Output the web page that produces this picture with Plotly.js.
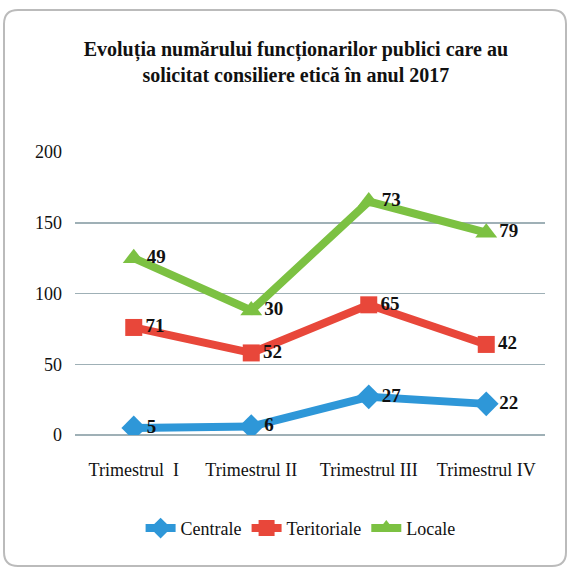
<!DOCTYPE html>
<html><head><meta charset="utf-8">
<script src="https://cdn.plot.ly/plotly-3.0.1.min.js"></script>
<style>html,body{margin:0;padding:0;background:#fff}#c{width:569px;height:569px}</style>
</head><body><div id="c"></div>
<script>
const categories = ["Trimestrul  I", "Trimestrul II", "Trimestrul III", "Trimestrul IV"];
const centrale = [5, 6, 27, 22];
const teritoriale = [71, 52, 65, 42];
const locale = [49, 30, 73, 79];

const fontFam = "Liberation Serif";
function mk(name, vals, color, symbol, msize) {
  return {
    type: 'scatter', mode: 'lines+markers+text', name: name,
    x: categories, y: vals, stackgroup: 'one', fill: 'none',
    text: vals.map(String), textposition: 'middle right',
    textfont: {family: fontFam, size: 19, color: '#111', weight: 'bold'},
    line: {color: color, width: 8},
    marker: {color: color, symbol: symbol, size: msize},
    hoverinfo: 'skip'
  };
}
const data = [
  mk('Centrale', centrale, '#2E97D8', 'diamond', 19),
  mk('Teritoriale', teritoriale, '#E8473A', 'square', 17),
  mk('Locale', locale, '#7CC142', 'triangle-up', 19)
];
const layout = {
  width: 569, height: 569,
  margin: {l: 75, r: 24, t: 152, b: 134},
  paper_bgcolor: '#fff', plot_bgcolor: '#fff',
  font: {family: fontFam, color: '#111', size: 17},
  title: {text: '<b>Evoluția numărului funcționarilor publici care au<br>solicitat consiliere etică în anul 2017</b>',
    x: 0.52, xanchor: 'center', y: 0.902, yanchor: 'middle', yref: 'container',
    font: {family: fontFam, size: 20, color: '#111'}},
  xaxis: {type: 'category', range: [-0.5, 3.5], showgrid: false, zeroline: false, showline: false,
    ticks: '', ticklabelstandoff: 22, tickfont: {size: 18, family: fontFam}},
  yaxis: {range: [0, 200], dtick: 50, showgrid: true, gridcolor: '#9FB0B6', gridwidth: 1.5,
    zeroline: true, zerolinecolor: '#9FB0B6', zerolinewidth: 1.5, showline: false, ticks: '',
    ticklabelstandoff: 12, tickfont: {size: 18, family: fontFam}},
  showlegend: true,
  legend: {orientation: 'h', x: 0.48, xanchor: 'center', y: -0.33, yanchor: 'middle',
    font: {size: 18, family: fontFam}, traceorder: 'normal', itemwidth: 30},
  shapes: [{type: 'path', xref: 'paper', yref: 'paper',
    path: '', line: {color: '#bbb', width: 2}}]
};
(function(){
  const pw = 569 - 75 - 24, ph = 569 - 152 - 134;
  const px = v => (v - 75) / pw, py = v => (569 - 134 - v) / ph;
  const x0 = 4, x1 = 566, y0 = 10, y1 = 566, r = 14;
  const p = `M ${px(x0 + r)},${py(y0)} L ${px(x1 - r)},${py(y0)} Q ${px(x1)},${py(y0)} ${px(x1)},${py(y0 + r)} L ${px(x1)},${py(y1 - r)} Q ${px(x1)},${py(y1)} ${px(x1 - r)},${py(y1)} L ${px(x0 + r)},${py(y1)} Q ${px(x0)},${py(y1)} ${px(x0)},${py(y1 - r)} L ${px(x0)},${py(y0 + r)} Q ${px(x0)},${py(y0)} ${px(x0 + r)},${py(y0)} Z`;
  layout.shapes[0].path = p;
})();
Plotly.newPlot('c', data, layout, {displayModeBar: false, staticPlot: true});
</script></body></html>
